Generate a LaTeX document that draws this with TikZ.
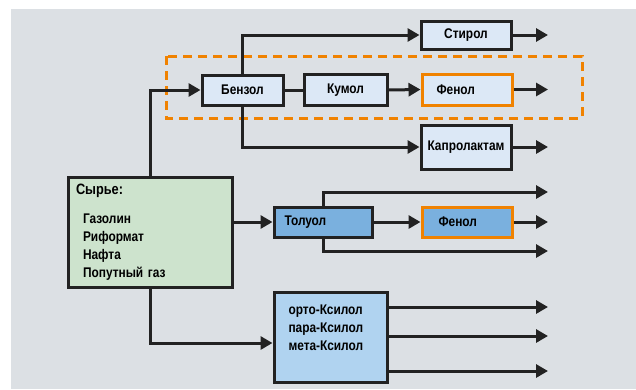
\documentclass[tikz,border=0pt]{standalone}
\usepackage{fontspec}
\setmainfont{Liberation Sans}[FakeStretch=0.85]
\usepackage{tikz}
\usetikzlibrary{arrows.meta}
\definecolor{BG}{HTML}{dce0e4}
\definecolor{BOX}{HTML}{dce8f6}
\definecolor{RAW}{HTML}{cde3cd}
\definecolor{TOL}{HTML}{7ab0de}
\definecolor{XYL}{HTML}{b0d3f0}
\definecolor{ORG}{HTML}{f08200}
\definecolor{LN}{HTML}{222222}

\begin{document}
\begin{tikzpicture}[x=1pt, y=-1pt,
  box/.style={draw=LN, line width=3pt, fill=BOX, inner sep=0pt, font=\fontsize{14}{18}\selectfont\bfseries},
  hot/.style={box, draw=ORG},
  link/.style={draw=LN, line width=3pt},
  arr/.style={link, -{Triangle[length=12pt, width=13pt]}}]
\useasboundingbox (0,0) rectangle (636,389);
\fill[BG] (11,9) rectangle (636,389);
% benzene chain
\node[box, minimum width=81pt, minimum height=30pt] (benzol) at (242.5,90) {Бензол};
\node[box, minimum width=83pt, minimum height=31pt] (kumol) at (345.5,90) {Кумол};
\node[hot, minimum width=90pt, minimum height=31pt, text width=75pt, align=left] (fenolA) at (467,89.5) {\hspace*{7pt}Фенол};
\node[box, minimum width=90pt, minimum height=28pt] (stirol) at (466,35) {Стирол};
\node[box, minimum width=90pt, minimum height=44pt] (kaprolaktam) at (466,147) {Капролактам\\[0pt]\mbox{}};
\node[box, fill=RAW, minimum width=164pt, minimum height=110pt, text width=156pt, align=left] (syrye) at (150,232)
  {\hspace*{4pt}{\fontsize{15}{18}\selectfont Сырье:}\\[11pt]
   \hspace*{11pt}Газолин\\ \hspace*{11pt}Риформат\\ \hspace*{11pt}Нафта\\ \hspace*{11pt}Попутный газ};
% toluene and xylenes
\node[box, fill=TOL, minimum width=98pt, minimum height=30pt, text width=87pt, align=left] (toluol) at (323,222) {\hspace*{5pt}Толуол};
\node[hot, fill=TOL, minimum width=90pt, minimum height=30pt, text width=73pt, align=left] (fenolB) at (467,222) {\hspace*{8pt}Фенол};
\node[box, fill=XYL, minimum width=113pt, minimum height=90pt, text width=98pt, align=left] (xylol) at (330.5,337)
  {\hspace*{7pt}орто-Ксилол\\ \hspace*{7pt}пара-Ксилол\\ \hspace*{7pt}мета-Ксилол\\ \mbox{}};
\draw[ORG, line width=3pt, dash pattern=on 9pt off 6pt] (166,56) rectangle (582,118);
% free ends
\coordinate (out) at (548,0);
\coordinate (tolUp) at (548,192);
\coordinate (tolDn) at (548,251);
\coordinate (xA) at (548,307);
\coordinate (xB) at (548,336);
\coordinate (xC) at (548,371);
% connectors
\draw[arr] (syrye.north) |- (benzol.west);
\draw[arr] (syrye.east |- toluol.west) -- (toluol.west);
\draw[arr] (syrye.south) |- ([yshift=-6pt]xylol.west);
\draw[link] (benzol.east) -- (kumol.west);
\draw[arr] (kumol.east) -- (fenolA.west);
\draw[arr] (benzol.north) |- (stirol.west);
\draw[arr] (benzol.south) |- (kaprolaktam.west);
\draw[arr] (toluol.east) -- (fenolB.west);
\draw[arr] (toluol.north) |- (tolUp);
\draw[arr] (toluol.south) |- (tolDn);
\foreach \n in {stirol, fenolA, kaprolaktam, fenolB}
  \draw[arr] (\n.east) -- (\n.east -| out);
\foreach \c in {xA, xB, xC}
  \draw[arr] (xylol.east |- \c) -- (\c);
\end{tikzpicture}
\end{document}
